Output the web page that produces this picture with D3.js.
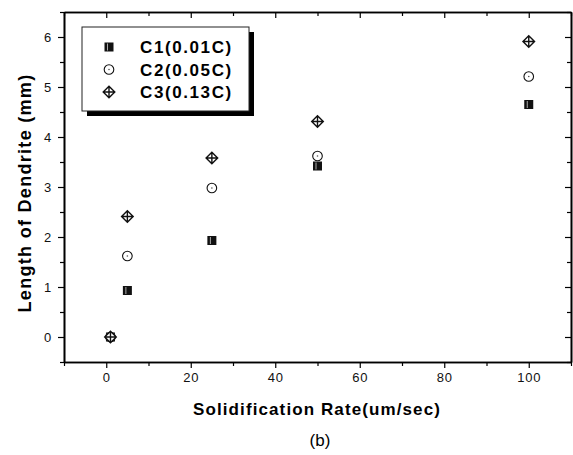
<!DOCTYPE html>
<html>
<head>
<meta charset="utf-8">
<script src="https://cdn.jsdelivr.net/npm/d3@7"></script>
<style>
  body { margin: 0; background: #fff; }
  svg { display: block; font-family: Arial, "Liberation Sans", sans-serif; }
</style>
</head>
<body>
<script>
const w = 573;
const h = 455;

// data
const rates = [1, 5, 25, 50, 100];
const c1 = [0, 0.93, 1.93, 3.42, 4.65];
const c2 = [0, 1.62, 2.98, 3.62, 5.21];
const c3 = [0, 2.41, 3.58, 4.31, 5.91];
const seriesNames = ["C1(0.01C)", "C2(0.05C)", "C3(0.13C)"];
const xTicks = [0, 20, 40, 60, 80, 100];
const yTicks = [0, 1, 2, 3, 4, 5, 6];

const plotLeft = 64, plotRight = 571, plotTop = 12, plotBottom = 362;

const svg = d3.select("body")
              .append("svg")
              .attr("width", w)
              .attr("height", h);

const xScale = d3.scaleLinear().domain([-10, 110]).range([plotLeft, plotRight]);
const yScale = d3.scaleLinear().domain([-0.5, 6.5]).range([plotBottom, plotTop]);

const xMinor = d3.range(-10, 111, 10).filter(d => d % 20 !== 0);
const yMinor = d3.range(-0.5, 6.6, 1);

// bottom axis, ticks out
svg.append("g")
   .attr("transform", `translate(0, ${plotBottom})`)
   .call(d3.axisBottom(xScale).tickValues(xTicks).tickFormat(d3.format("d"))
         .tickSize(6).tickPadding(5).tickSizeOuter(0));
svg.append("g")
   .attr("transform", `translate(0, ${plotBottom})`)
   .call(d3.axisBottom(xScale).tickValues(xMinor).tickSize(4).tickFormat("").tickSizeOuter(0));

// left axis, ticks out
svg.append("g")
   .attr("transform", `translate(${plotLeft}, 0)`)
   .call(d3.axisLeft(yScale).tickValues(yTicks).tickFormat(d3.format("d"))
         .tickSize(6).tickPadding(6).tickSizeOuter(0));
svg.append("g")
   .attr("transform", `translate(${plotLeft}, 0)`)
   .call(d3.axisLeft(yScale).tickValues(yMinor).tickSize(4).tickFormat("").tickSizeOuter(0));

// top and right mirrors, ticks pointing in
svg.append("g")
   .attr("transform", `translate(0, ${plotTop})`)
   .call(d3.axisBottom(xScale).tickValues(xTicks).tickSize(6).tickFormat("").tickSizeOuter(0));
svg.append("g")
   .attr("transform", `translate(0, ${plotTop})`)
   .call(d3.axisBottom(xScale).tickValues(xMinor).tickSize(4).tickFormat("").tickSizeOuter(0));
svg.append("g")
   .attr("transform", `translate(${plotRight}, 0)`)
   .call(d3.axisLeft(yScale).tickValues(yTicks).tickSize(6).tickFormat("").tickSizeOuter(0));
svg.append("g")
   .attr("transform", `translate(${plotRight}, 0)`)
   .call(d3.axisLeft(yScale).tickValues(yMinor).tickSize(4).tickFormat("").tickSizeOuter(0));

svg.selectAll(".domain").attr("stroke", "#000").attr("stroke-width", 1.6);
svg.selectAll(".tick line").attr("stroke", "#000").attr("stroke-width", 1.2);
svg.selectAll(".tick text")
   .attr("font-size", "13px")
   .attr("font-family", "Arial, 'Liberation Sans', sans-serif")
   .attr("letter-spacing", "0.8px")
   .attr("fill", "#111");

// axis titles
svg.append("text")
   .text("Solidification Rate(um/sec)")
   .attr("x", 317)
   .attr("y", 415)
   .attr("text-anchor", "middle")
   .attr("font-weight", "bold")
   .attr("font-size", "17px")
   .attr("letter-spacing", "1.1px");

svg.append("text")
   .text("Length of Dendrite (mm)")
   .attr("transform", "translate(31, 193) rotate(-90)")
   .attr("text-anchor", "middle")
   .attr("font-weight", "bold")
   .attr("font-size", "18px")
   .attr("letter-spacing", "1.3px");

svg.append("text")
   .text("(b)")
   .attr("x", 320)
   .attr("y", 446)
   .attr("text-anchor", "middle")
   .attr("font-size", "17px");

// markers
function drawSquare(g, x, y) {
   g.append("rect").attr("x", x - 4.5).attr("y", y - 4.5).attr("width", 9).attr("height", 9)
    .attr("fill", "#111");
   g.append("line").attr("x1", x - 1.5).attr("x2", x - 1.5).attr("y1", y - 3.5).attr("y2", y + 3.5)
    .attr("stroke", "#aaa").attr("stroke-width", 1);
}
function drawCircle(g, x, y) {
   g.append("circle").attr("cx", x).attr("cy", y).attr("r", 4.8)
    .attr("fill", "#fff").attr("stroke", "#111").attr("stroke-width", 1.1);
   g.append("circle").attr("cx", x).attr("cy", y).attr("r", 0.8).attr("fill", "#555");
}
function drawDiamond(g, x, y) {
   const r = 5.8;
   g.append("path")
    .attr("d", `M${x},${y - r}L${x + r},${y}L${x},${y + r}L${x - r},${y}Z`
              + `M${x - r},${y}L${x + r},${y}M${x},${y - r}L${x},${y + r}`)
    .attr("fill", "#fff").attr("stroke", "#111").attr("stroke-width", 1.4);
}
const drawers = [drawSquare, drawCircle, drawDiamond];
const seriesData = [c1, c2, c3];

const marks = svg.append("g");
seriesData.forEach((vals, si) => {
   vals.forEach((v, i) => {
      drawers[si](marks, xScale(rates[i]), yScale(v));
   });
});

// legend with drop shadow
const legend = svg.append("g").attr("transform", "translate(82, 27)");
legend.append("rect")
   .attr("x", 5).attr("y", 5).attr("width", 167).attr("height", 84)
   .attr("fill", "#000");
legend.append("rect")
   .attr("x", 0).attr("y", 0).attr("width", 167).attr("height", 84)
   .attr("fill", "#fff").attr("stroke", "#222").attr("stroke-width", 1);

seriesNames.forEach((name, i) => {
   const yy = 20 + i * 22.5;
   drawers[i](legend, 27, yy);
   legend.append("text")
      .text(name)
      .attr("x", 58)
      .attr("y", yy + 6)
      .attr("font-weight", "bold")
      .attr("font-size", "17px")
      .attr("letter-spacing", "1.6px");
});
</script>
</body>
</html>
